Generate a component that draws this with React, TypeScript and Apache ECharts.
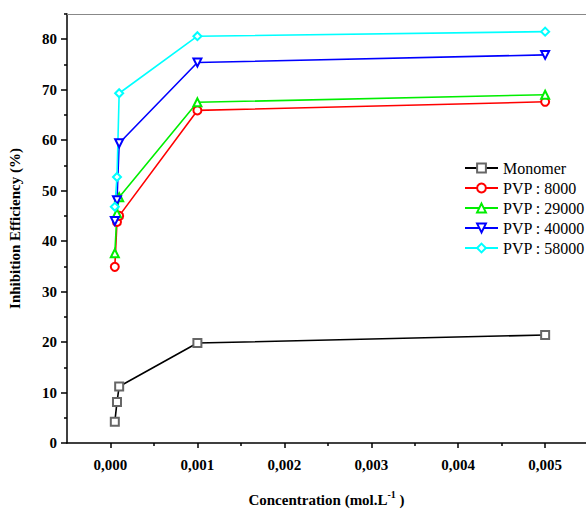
import React, { useEffect, useRef } from "react";
import * as echarts from "echarts";

const concentrations = [0.00005, 0.000075, 0.0001, 0.001, 0.005];
const monomer = [4.2, 8.1, 11.2, 19.8, 21.4];
const pvp8000 = [34.9, 43.8, 45.0, 65.9, 67.6];
const pvp29000 = [37.6, 45.5, 48.7, 67.5, 69.0];
const pvp40000 = [44.0, 48.1, 59.4, 75.4, 76.9];
const pvp58000 = [46.8, 52.7, 69.3, 80.6, 81.5];

const seriesNames = ["Monomer", "PVP : 8000", "PVP : 29000", "PVP : 40000", "PVP : 58000"];
const lineColors = ["#000000", "#ff0000", "#00ee00", "#0000ff", "#00ffff"];
const symbolColors = ["#666666", "#ff0000", "#00ee00", "#0000ff", "#00ffff"];
const xMajorTicks = [0, 0.001, 0.002, 0.003, 0.004, 0.005];
const xMinorTicks = [0.0005, 0.0015, 0.0025, 0.0035, 0.0045];
const yMajorTicks = [0, 10, 20, 30, 40, 50, 60, 70, 80];
const yMinorTicks = [5, 15, 25, 35, 45, 55, 65, 75, 85];

const FONT = "Liberation Serif, Times New Roman, serif";

export default function App() {
  const ref = useRef<HTMLDivElement>(null);
  useEffect(() => {
    if (!ref.current) return;
    const chart = echarts.init(ref.current, null, { renderer: "svg" });
    const xMin = -0.0005;
    const xMax = 0.00547;
    const pair = (vals: number[]) => concentrations.map((c, i) => [c, vals[i]]);
    const mk = (i: number, vals: number[], symbol: string, rotate = 0) => ({
      name: seriesNames[i],
      type: "line",
      data: pair(vals),
      symbol,
      symbolSize: 8,
      symbolRotate: rotate,
      color: symbolColors[i],
      lineStyle: { color: lineColors[i], width: 1.6 },
      itemStyle: { color: symbolColors[i], borderWidth: 1 },
      xAxisIndex: 0,
      yAxisIndex: 0,
    });
    chart.setOption({
      animation: false,
      backgroundColor: "#fff",
      grid: { left: 67, right: 0, top: 14, bottom: 69, containLabel: false, outerBoundsMode: "none" },
      legend: {
        orient: "vertical",
        left: 464,
        top: 158,
        padding: 0,
        itemWidth: 33,
        itemHeight: 11,
        itemGap: 0,
        textStyle: { fontFamily: FONT, fontSize: 16, color: "#000", lineHeight: 20 },
        data: seriesNames,
      },
      xAxis: [
        {
          type: "value",
          min: xMin,
          max: xMax,
          position: "bottom",
          splitLine: { show: false },
          axisLine: { onZero: false, lineStyle: { color: "#000", width: 1.5 } },
          axisTick: { customValues: xMajorTicks, length: 5, lineStyle: { color: "#000", width: 1.5 } },
          axisLabel: {
            customValues: xMajorTicks,
            formatter: (v: number) => v.toFixed(3).replace(".", ","),
            fontFamily: FONT,
            fontSize: 15,
            fontWeight: "bold",
            color: "#000",
            margin: 14,
          },
          name: "{a|Concentration (mol.L}{s|-1}{a| )}",
          nameLocation: "middle",
          nameGap: 46,
          nameTextStyle: {
            rich: {
              a: { fontFamily: FONT, fontSize: 15, fontWeight: "bold", color: "#000", verticalAlign: "bottom", lineHeight: 18 },
              s: { fontFamily: FONT, fontSize: 10, fontWeight: "bold", color: "#000", verticalAlign: "top", lineHeight: 18, padding: [0, 0, 10, 0] },
            },
          },
        },
        {
          type: "value",
          min: xMin,
          max: xMax,
          position: "bottom",
          splitLine: { show: false },
          axisLine: { show: false, onZero: false },
          axisTick: { customValues: xMinorTicks, length: 3, lineStyle: { color: "#000", width: 1.5 } },
          axisLabel: { show: false },
        },
        {
          type: "value",
          min: xMin,
          max: xMax,
          position: "top",
          splitLine: { show: false },
          axisLine: { onZero: false, lineStyle: { color: "#888", width: 1.2 } },
          axisTick: { show: false },
          axisLabel: { show: false },
        },
      ],
      yAxis: [
        {
          type: "value",
          min: 0,
          max: 85,
          position: "left",
          splitLine: { show: false },
          axisLine: { show: true, onZero: false, lineStyle: { color: "#000", width: 1.5 } },
          axisTick: { show: true, customValues: yMajorTicks, length: 6, lineStyle: { color: "#000", width: 1.5 } },
          axisLabel: {
            customValues: yMajorTicks,
            fontFamily: FONT,
            fontSize: 15,
            fontWeight: "bold",
            color: "#000",
            margin: 10,
          },
          name: "Inhibition Efficiency (%)",
          nameLocation: "middle",
          nameGap: 45,
          nameTextStyle: { fontFamily: FONT, fontSize: 15, fontWeight: "bold", color: "#000" },
        },
        {
          type: "value",
          min: 0,
          max: 85,
          position: "left",
          splitLine: { show: false },
          axisLine: { show: false, onZero: false },
          axisTick: { show: true, customValues: yMinorTicks, length: 3, lineStyle: { color: "#000", width: 1.5 } },
          axisLabel: { show: false },
        },
      ],
      series: [
        mk(0, monomer, "emptyRect"),
        mk(1, pvp8000, "emptyCircle"),
        mk(2, pvp29000, "emptyTriangle"),
        mk(3, pvp40000, "emptyTriangle", 180),
        mk(4, pvp58000, "emptyDiamond"),
      ],
    });
    return () => chart.dispose();
  }, []);
  return <div ref={ref} style={{ position: "fixed", left: 0, top: 0, width: 586, height: 512 }} />;
}
